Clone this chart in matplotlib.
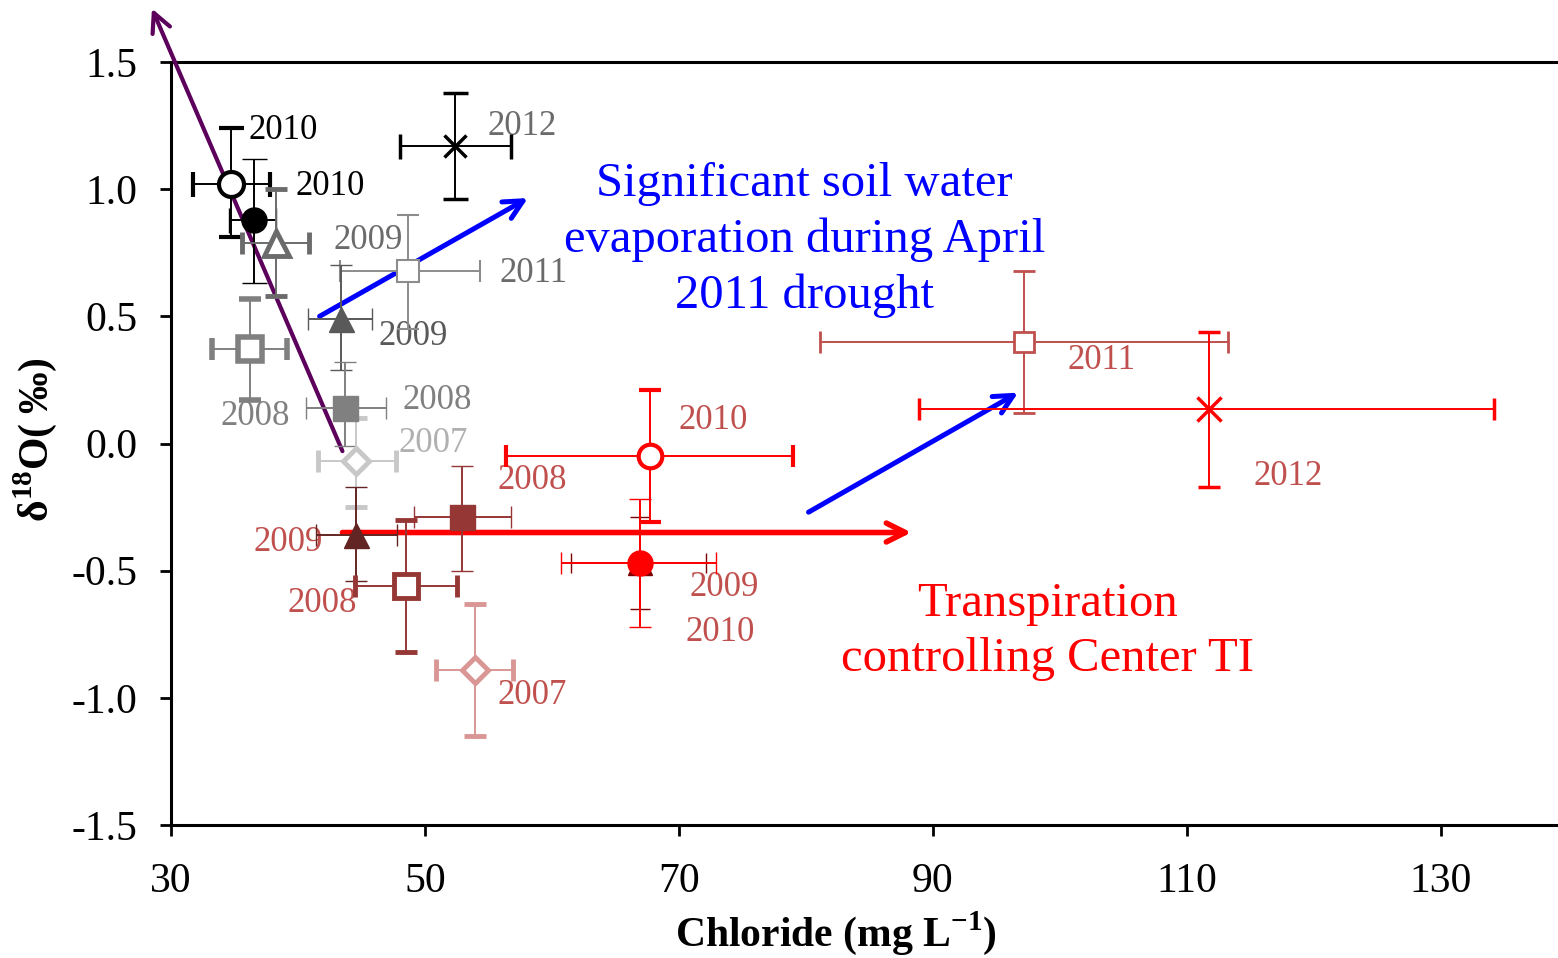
import numpy as np
import matplotlib
matplotlib.use("Agg")
import matplotlib.pyplot as plt

plt.rcParams['font.family'] = ['Liberation Serif', 'DejaVu Serif']
plt.rcParams['mathtext.fontset'] = 'custom'
plt.rcParams['mathtext.rm'] = 'Liberation Serif'
plt.rcParams['mathtext.bf'] = 'Liberation Serif:bold'
plt.rcParams['axes.unicode_minus'] = False

# chloride (mg/L) and d18O (permil) means with min/max ranges
years = ['2010', '2010', '2009', '2011', '2012', '2009', '2008', '2008', '2007',
         '2009', '2008', '2008', '2007', '2010', '2009', '2010', '2011', '2012']
cl = np.array([34.7, 36.5, 38.3, 48.7, 52.4, 43.4, 36.2, 43.7, 44.6,
               44.6, 52.9, 48.5, 53.9, 66.9, 66.9, 67.7, 97.2, 111.7])
cl_lo = np.array([31.7, 34.6, 35.6, 43.3, 48.0, 40.8, 33.2, 40.6, 41.6,
                  41.4, 49.1, 44.5, 50.9, 61.5, 60.7, 56.4, 81.1, 88.9])
cl_hi = np.array([37.8, 38.3, 40.9, 54.3, 56.8, 45.8, 39.1, 46.9, 47.7,
                  47.8, 56.8, 52.5, 56.9, 72.1, 72.9, 79.0, 113.2, 134.2])
d18o = np.array([1.02, 0.88, 0.79, 0.68, 1.17, 0.49, 0.37, 0.14, -0.07,
                 -0.36, -0.29, -0.56, -0.89, -0.47, -0.47, -0.05, 0.40, 0.135])
d18o_lo = np.array([0.81, 0.63, 0.58, 0.45, 0.96, 0.29, 0.17, -0.01, -0.25,
                    -0.54, -0.50, -0.82, -1.15, -0.65, -0.72, -0.31, 0.12, -0.17])
d18o_hi = np.array([1.24, 1.12, 1.00, 0.90, 1.38, 0.70, 0.57, 0.32, 0.10,
                    -0.17, -0.09, -0.30, -0.63, -0.29, -0.22, 0.21, 0.68, 0.44])

# marker, colour, filled, marker size, edge width, cap size
styles = [
    ('o', '#000000', False, 18, 3.0, 9),
    ('o', '#000000', True, 18, 1.0, 9),
    ('^', '#6b6b6b', False, 18, 3.5, 8),
    ('s', '#8c8c8c', False, 16, 1.5, 8),
    ('x', '#000000', True, 16, 2.5, 9),
    ('^', '#595959', True, 18, 1.0, 8),
    ('s', '#808080', False, 17, 4.0, 8),
    ('s', '#808080', True, 18, 1.0, 8),
    ('D', '#c8c8c8', False, 13, 3.5, 8),
    ('^', '#632523', True, 18, 1.0, 8),
    ('s', '#953735', True, 18, 1.0, 8),
    ('s', '#953735', False, 17, 3.5, 8),
    ('D', '#d99694', False, 13, 3.5, 8),
    ('^', '#7f0000', True, 17, 1.0, 7),
    ('o', '#ff0000', True, 18, 1.0, 8),
    ('o', '#ff0000', False, 17, 3.0, 8),
    ('s', '#c0504d', False, 15, 2.0, 8),
    ('x', '#ff0000', True, 17, 2.5, 8),
]

# year labels: text, x, y, colour
labels = [
    ('2010', 36.1, 1.23, '#000000'), ('2010', 39.8, 1.01, '#000000'),
    ('2009', 42.8, 0.80, '#6b6b6b'), ('2011', 55.9, 0.67, '#6b6b6b'),
    ('2012', 54.9, 1.245, '#6b6b6b'), ('2009', 46.3, 0.42, '#595959'),
    ('2008', 33.9, 0.105, '#808080'), ('2008', 48.2, 0.17, '#808080'),
    ('2007', 47.9, 0.0, '#b0b0b0'),
    ('2008', 55.7, -0.145, '#c0504d'), ('2009', 36.5, -0.39, '#c0504d'),
    ('2008', 39.2, -0.63, '#c0504d'), ('2007', 55.7, -0.99, '#c0504d'),
    ('2010', 70.0, 0.09, '#c0504d'), ('2009', 70.8, -0.565, '#c0504d'),
    ('2010', 70.5, -0.745, '#c0504d'), ('2011', 100.6, 0.325, '#c0504d'),
    ('2012', 115.2, -0.13, '#c0504d'),
]

fig = plt.figure(figsize=(15.58, 9.58), dpi=100)
ax = fig.add_axes([171 / 1558, 1 - 825 / 958, 1 - 171 / 1558, (825 - 62) / 958])

for i in range(len(cl)):
    m, c, filled, ms, mew, cs = styles[i]
    xerr = [[cl[i] - cl_lo[i]], [cl_hi[i] - cl[i]]]
    yerr = [[d18o[i] - d18o_lo[i]], [d18o_hi[i] - d18o[i]]]
    ax.errorbar(cl[i], d18o[i], xerr=xerr, yerr=yerr, fmt=m, color=c,
                ecolor=c, elinewidth=1.4, capsize=cs, capthick=1.4,
                ms=ms, mew=mew, mec=c, mfc=c if filled else 'white',
                zorder=3 + i * 0.01)

for txt, x, y, c in labels:
    ax.text(x, y, txt, color=c, fontsize=25, va='center', ha='left', zorder=2)

# trend arrows
ax.annotate('', xy=(28.5, 1.71), xytext=(43.5, -0.03), annotation_clip=False,
            arrowprops=dict(arrowstyle='->', color='#5c005c', lw=3,
                            mutation_scale=34, shrinkA=0, shrinkB=0))
ax.annotate('', xy=(58.1, 0.965), xytext=(41.7, 0.50),
            arrowprops=dict(arrowstyle='->', color='#0000ff', lw=3.6,
                            mutation_scale=34, shrinkA=0, shrinkB=0))
ax.annotate('', xy=(96.7, 0.20), xytext=(80.2, -0.27),
            arrowprops=dict(arrowstyle='->', color='#0000ff', lw=3.6,
                            mutation_scale=34, shrinkA=0, shrinkB=0))
ax.annotate('', xy=(88.3, -0.35), xytext=(43.5, -0.35),
            arrowprops=dict(arrowstyle='->', color='#ff0000', lw=4,
                            mutation_scale=34, shrinkA=0, shrinkB=0))

ax.text(79.9, 0.80, 'Significant soil water\nevaporation during April\n2011 drought',
        color='#0000ff', fontsize=35, ha='center', va='center', linespacing=1.34)
ax.text(99.0, -0.74, 'Transpiration\ncontrolling Center TI',
        color='#ff0000', fontsize=35, ha='center', va='center', linespacing=1.32)

ax.set_xlim(30, 30 + (1558 - 171) / 12.7)
ax.set_ylim(-1.5, 1.5)
ax.set_xticks([30, 50, 70, 90, 110, 130])
ax.set_yticks([-1.5, -1.0, -0.5, 0.0, 0.5, 1.0, 1.5])
ax.set_yticklabels(['-1.5', '-1.0', '-0.5', '0.0', '0.5', '1.0', '1.5'])
ax.tick_params(labelsize=30, width=2, length=8, direction='out')
ax.tick_params(axis='x', pad=19)
ax.tick_params(axis='y', pad=16)
for s in ['left', 'bottom', 'top']:
    ax.spines[s].set_linewidth(2.2)
ax.spines['right'].set_visible(False)

ax.set_xlabel('Chloride (mg L$^{\\mathbf{-1}}$)', fontsize=30, fontweight='bold', va='center')
ax.set_ylabel('δ$^{\\mathbf{18}}$O( ‰)', fontsize=30, fontweight='bold', va='center')
ax.xaxis.set_label_coords((836 - 171) / 1387, (825 - 933) / 763)
ax.yaxis.set_label_coords((35 - 171) / 1387, (825 - 440) / 763)

fig.savefig('out.png', dpi=100)
